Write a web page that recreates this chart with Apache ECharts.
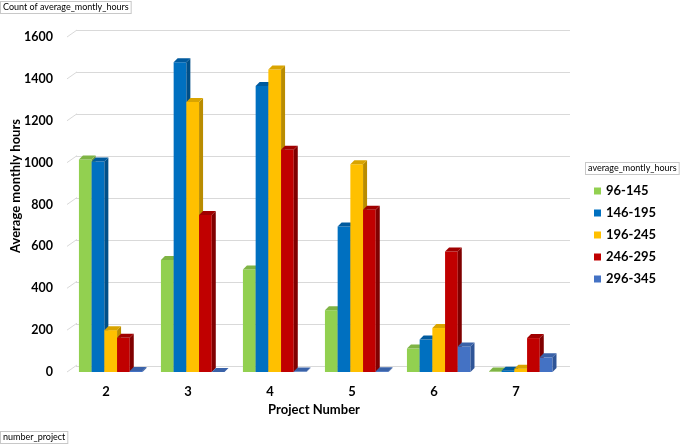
<!DOCTYPE html>
<html><head><meta charset="utf-8">
<script src="https://cdn.jsdelivr.net/npm/echarts@6/dist/echarts.min.js"></script>
<style>html,body{margin:0;padding:0;background:#fff}#c{width:685px;height:445px}</style>
</head><body><div id="c"></div>
<script>
const categories = ['2', '3', '4', '5', '6', '7'];
const seriesNames = ['96-145', '146-195', '196-245', '246-295', '296-345'];
const v96_145  = [1015, 535, 490, 295, 112, 2];
const v146_195 = [1005, 1480, 1366, 695, 155, 6];
const v196_245 = [200, 1290, 1445, 992, 210, 16];
const v246_295 = [163, 750, 1062, 775, 575, 162];
const v296_345 = [5, 0, 2, 4, 122, 70];
const yTicks = [0, 200, 400, 600, 800, 1000, 1200, 1400, 1600];

const FONT = 'Lato, "Liberation Sans", sans-serif';
const seriesValues = [v96_145, v146_195, v196_245, v246_295, v296_345];
const palette = [
  ['#92D050', '#6E9C3C', '#7FB445'],
  ['#0070C0', '#004F88', '#005A9E'],
  ['#FFC000', '#B98C00', '#D9A400'],
  ['#C00000', '#800000', '#A00000'],
  ['#4472C4', '#2F5597', '#3A62A8']
];

function barRender(si, cols) {
  return function (params, api) {
    const c = api.value(0), v = api.value(1);
    const b = api.coord([c, 0]), t = api.coord([c, v]);
    const band = api.size([1, 0])[0];
    const bw = band * 0.155;
    const x0 = b[0] - band * 0.33 + si * bw;
    const dx = 4, dy = -4;
    return {
      type: 'group',
      children: [
        { type: 'rect', shape: { x: x0, y: t[1], width: bw, height: b[1] - t[1] }, style: { fill: cols[0] } },
        { type: 'polygon', shape: { points: [[x0 + bw, t[1]], [x0 + bw + dx, t[1] + dy], [x0 + bw + dx, b[1] + dy], [x0 + bw, b[1]]] }, style: { fill: cols[1] } },
        { type: 'polygon', shape: { points: [[x0, t[1]], [x0 + dx, t[1] + dy], [x0 + bw + dx, t[1] + dy], [x0 + bw, t[1]]] }, style: { fill: cols[2] } }
      ]
    };
  };
}

const series = seriesNames.map(function (name, si) {
  return {
    name: name,
    type: 'custom',
    xAxisIndex: 0, yAxisIndex: 0,
    itemStyle: { color: palette[si][0] },
    renderItem: barRender(si, palette[si]),
    data: seriesValues[si].map(function (v, i) { return [i, v]; }),
    encode: { x: 0, y: 1 }
  };
});

series.push({
  name: 'ticks',
  type: 'custom',
  xAxisIndex: 0, yAxisIndex: 0,
  silent: true,
  renderItem: function (params, api) {
    const y = api.coord([0, api.value(1)])[1];
    const x = params.coordSys.x + 2;
    return { type: 'line', shape: { x1: x, y1: y, x2: x + 10, y2: y - 7 }, style: { stroke: '#d9d9d9', lineWidth: 1 } };
  },
  data: yTicks.map(function (v) { return [0, v]; }),
  encode: { x: 0, y: 1 }
});

const chart = echarts.init(document.getElementById('c'), null, { renderer: 'canvas' });
chart.setOption({
  animation: false,
  backgroundColor: '#ffffff',
  grid: [
    { left: 65, right: 128, top: 37, bottom: 73 },
    { left: 76, right: 115, top: 30, bottom: 79 }
  ],
  xAxis: [
    { type: 'category', gridIndex: 0, data: categories,
      axisLine: { show: false }, axisTick: { show: false },
      axisLabel: { margin: 13, color: '#000', fontWeight: 'bold', fontSize: 13, fontFamily: FONT } },
    { type: 'category', gridIndex: 1, data: categories, show: false }
  ],
  yAxis: [
    { type: 'value', gridIndex: 0, min: 0, max: 1600, interval: 200,
      axisLine: { show: false }, axisTick: { show: false }, splitLine: { show: false },
      axisLabel: { margin: 12, color: '#000', fontWeight: 'bold', fontSize: 12.5, fontFamily: FONT,
        formatter: function (v) { return String(v); } } },
    { type: 'value', gridIndex: 1, min: 0, max: 1600, interval: 200,
      axisLine: { show: false }, axisTick: { show: false }, axisLabel: { show: false },
      splitLine: { show: true, lineStyle: { color: '#d9d9d9', width: 1 } } }
  ],
  legend: {
    data: seriesNames,
    orient: 'vertical',
    left: 589, top: 179,
    itemWidth: 7, itemHeight: 7, itemGap: 8,
    icon: 'rect',
    textStyle: { color: '#000', fontWeight: 'bold', fontSize: 13, lineHeight: 14, fontFamily: FONT }
  },
  graphic: [
    { type: 'text', left: 0, top: 1,
      style: { text: 'Count of average_montly_hours', fontSize: 9, fontFamily: FONT, fill: '#000',
        backgroundColor: '#fff', borderColor: '#c8c8c8', borderWidth: 1, padding: [1, 2] } },
    { type: 'text', left: 0, top: 431,
      style: { text: 'number_project', fontSize: 9, fontFamily: FONT, fill: '#000',
        backgroundColor: '#fff', borderColor: '#c8c8c8', borderWidth: 1, padding: [1, 2] } },
    { type: 'text', left: 585, top: 162,
      style: { text: 'average_montly_hours', fontSize: 9, fontFamily: FONT, fill: '#000',
        backgroundColor: '#fff', borderColor: '#c8c8c8', borderWidth: 1, padding: [1, 2] } },
    { type: 'text', x: 16, y: 186, rotation: Math.PI / 2,
      style: { text: 'Average monthly hours', fontSize: 13, fontWeight: 'bold', fontFamily: FONT, fill: '#000',
        align: 'center', verticalAlign: 'middle' } },
    { type: 'text', x: 314, y: 410,
      style: { text: 'Project Number', fontSize: 13, fontWeight: 'bold', fontFamily: FONT, fill: '#000',
        align: 'center', verticalAlign: 'middle' } }
  ],
  series: series
});
</script>
</body></html>
